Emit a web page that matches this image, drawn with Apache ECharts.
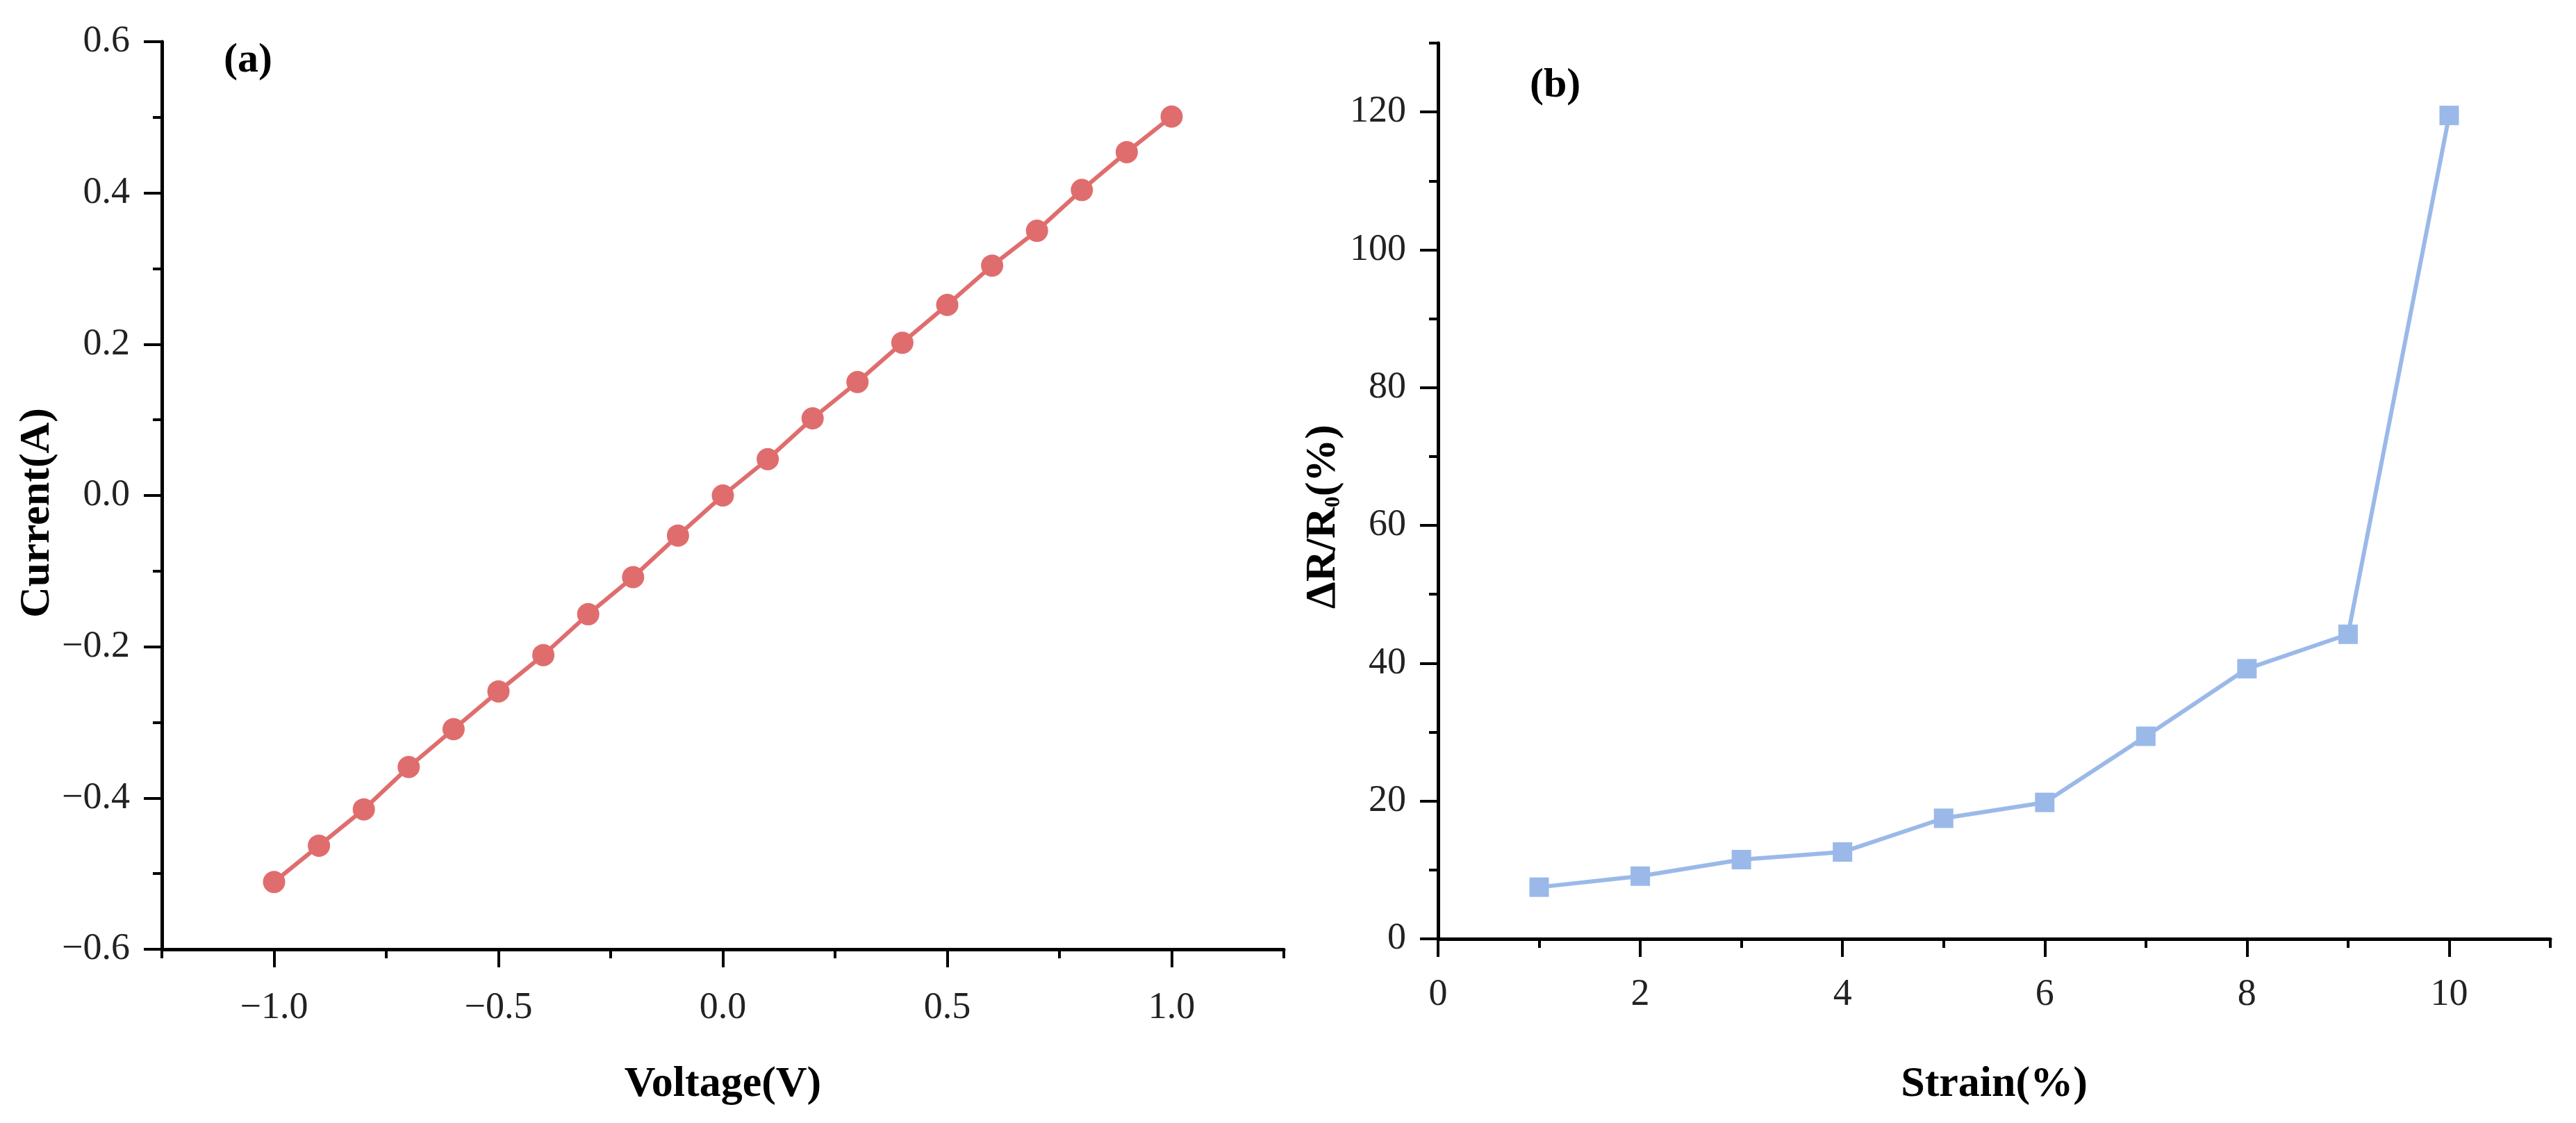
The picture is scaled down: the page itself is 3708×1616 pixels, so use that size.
<!DOCTYPE html>
<html>
<head>
<meta charset="utf-8">
<script src="https://cdn.jsdelivr.net/npm/echarts@6/dist/echarts.min.js"></script>
<style>
html,body{margin:0;padding:0;background:#fff;}
#chart{width:3708px;height:1616px;}
</style>
</head>
<body>
<div id="chart"></div>
<script>
// ---- Data (a): I-V curve ----
const voltage = [-1.0,-0.9,-0.8,-0.7,-0.6,-0.5,-0.4,-0.3,-0.2,-0.1,0.0,0.1,0.2,0.3,0.4,0.5,0.6,0.7,0.8,0.9,1.0];
const current = [-0.511,-0.463,-0.415,-0.359,-0.309,-0.259,-0.211,-0.157,-0.108,-0.053,0.0,0.048,0.102,0.150,0.202,0.252,0.304,0.350,0.404,0.454,0.501];
// ---- Data (b): strain response ----
const strain = [1,2,3,4,5,6,7,8,9,10];
const deltaR = [7.5,9.1,11.5,12.6,17.5,19.8,29.4,39.2,44.2,119.5];
// ---- Tick values ----
const aMajorX = [-1.0,-0.5,0.0,0.5,1.0];
const aMinorX = [-1.25,-0.75,-0.25,0.25,0.75,1.25];
const aMajorY = [-0.6,-0.4,-0.2,0.0,0.2,0.4,0.6];
const aMinorY = [-0.5,-0.3,-0.1,0.1,0.3,0.5];
const bMajorX = [0,2,4,6,8,10];
const bMinorX = [1,3,5,7,9,11];
const bMajorY = [0,20,40,60,80,100,120];
const bMinorY = [10,30,50,70,90,110,130];

const SERIF = '"Liberation Serif","DejaVu Serif",serif';
const fmt1 = v => (v < 0 ? '\u2212' : '') + Math.abs(v).toFixed(1);
const fmt0 = v => String(Math.round(v));

function mainAxis(gridIndex, min, max, ticks, formatter, name, extra) {
  return Object.assign({
    type: 'value', gridIndex, min, max,
    axisLine: {show: true, onZero: false, lineStyle: {color: '#000', width: 5}},
    axisTick: {show: true, customValues: ticks, length: 26, lineStyle: {color: '#000', width: 4}},
    axisLabel: {show: true, customValues: ticks, formatter, fontFamily: SERIF, fontSize: 54, color: '#222'},
    splitLine: {show: false},
    name, nameLocation: 'middle',
    nameTextStyle: {fontFamily: SERIF, fontWeight: 'bold', fontSize: 62, color: '#000'}
  }, extra);
}
function minorAxis(gridIndex, min, max, ticks, position) {
  return {
    type: 'value', gridIndex, min, max, position,
    axisLine: {show: false, onZero: false},
    axisTick: {show: true, customValues: ticks, length: 13, lineStyle: {color: '#000', width: 4}},
    axisLabel: {show: false},
    splitLine: {show: false}
  };
}

const option = {
  backgroundColor: '#fff',
  animation: false,
  title: [
    {text: '(a)', left: 317, top: 52, textStyle: {fontFamily: SERIF, fontWeight: 'bold', fontSize: 60, color: '#000'}},
    {text: '(b)', left: 2197, top: 88, textStyle: {fontFamily: SERIF, fontWeight: 'bold', fontSize: 60, color: '#000'}}
  ],
  grid: [
    {left: 233, top: 60, width: 1615, height: 1306, containLabel: false},
    {left: 2070, top: 62, width: 1601, height: 1289, containLabel: false}
  ],
  xAxis: [
    mainAxis(0, -1.25, 1.25, aMajorX, fmt1, 'Voltage(V)', {position: 'bottom', nameGap: 164, axisLabel: {show: true, customValues: aMajorX, formatter: fmt1, fontFamily: SERIF, fontSize: 54, color: '#222', margin: 58}}),
    minorAxis(0, -1.25, 1.25, aMinorX, 'bottom'),
    mainAxis(1, 0, 11, bMajorX, fmt0, 'Strain(%)', {position: 'bottom', nameGap: 179, axisLabel: {show: true, customValues: bMajorX, formatter: fmt0, fontFamily: SERIF, fontSize: 54, color: '#222', margin: 54}}),
    minorAxis(1, 0, 11, bMinorX, 'bottom')
  ],
  yAxis: [
    mainAxis(0, -0.6, 0.6, aMajorY, fmt1, 'Current(A)', {position: 'left', nameGap: 141,
      axisLabel: {show: true, customValues: aMajorY, formatter: fmt1, fontFamily: SERIF, fontSize: 54, color: '#222', margin: 46},
      nameTextStyle: {fontFamily: SERIF, fontWeight: 'bold', fontSize: 62, color: '#000', padding: [0, 50, 0, 0]}}),
    minorAxis(0, -0.6, 0.6, aMinorY, 'left'),
    mainAxis(1, 0, 130, bMajorY, fmt0, '{n|\u0394R/R}{s|0}{n|(%)}', {position: 'left', nameGap: 134,
      axisLabel: {show: true, customValues: bMajorY, formatter: fmt0, fontFamily: SERIF, fontSize: 54, color: '#222', margin: 46},
      nameTextStyle: {fontFamily: SERIF, fontWeight: 'bold', fontSize: 62, color: '#000', padding: [0, 74, 0, 0],
        rich: {
          n: {fontFamily: SERIF, fontWeight: 'bold', fontSize: 62, color: '#000'},
          s: {fontFamily: SERIF, fontWeight: 'bold', fontSize: 32, color: '#000', padding: [30, 0, 0, 0]}
        }}}),
    minorAxis(1, 0, 130, bMinorY, 'left')
  ],
  series: [
    {
      type: 'line', xAxisIndex: 0, yAxisIndex: 0,
      data: voltage.map((v, i) => [v, current[i]]),
      symbol: 'circle', symbolSize: 32,
      lineStyle: {color: '#E06D6D', width: 6},
      itemStyle: {color: '#E06D6D'},
      z: 3
    },
    {
      type: 'line', xAxisIndex: 2, yAxisIndex: 2,
      data: strain.map((s, i) => [s, deltaR[i]]),
      symbol: 'rect', symbolSize: 28,
      lineStyle: {color: '#9AB9E9', width: 6},
      itemStyle: {color: '#9AB9E9'},
      z: 3
    }
  ]
};

const chart = echarts.init(document.getElementById('chart'), null, {renderer: 'canvas'});
chart.setOption(option);
</script>
</body>
</html>
